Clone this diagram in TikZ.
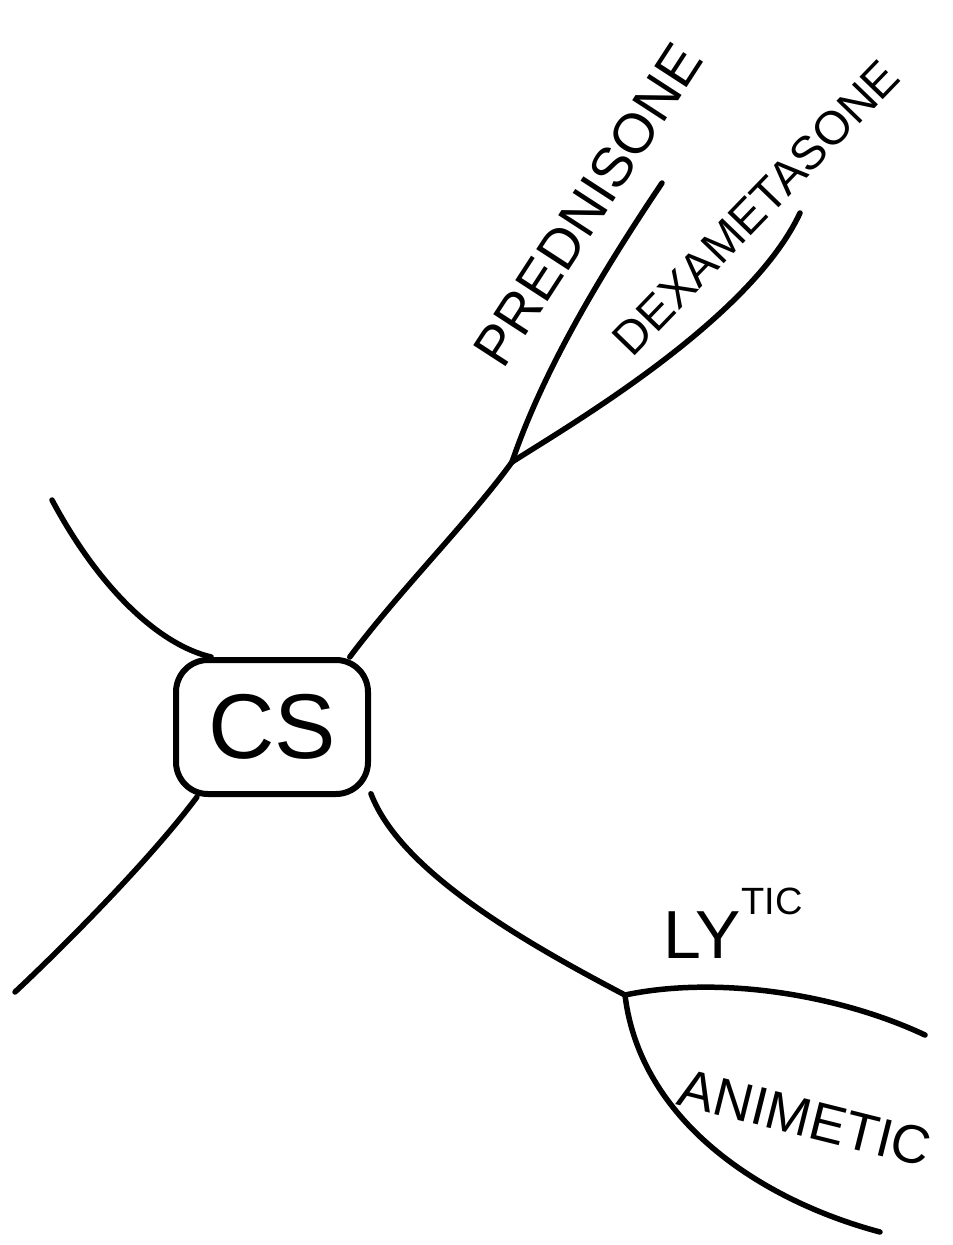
\documentclass[tikz,border=0pt]{standalone}
\usepackage{fontspec}
\setmainfont{Liberation Sans}
\begin{document}
\begin{tikzpicture}[x=1pt,y=-1pt,
  stroke/.style={line width=5.5pt, line cap=round, black},
  hub/.style={draw, line width=6pt, rounded corners=32pt, minimum width=192pt, minimum height=134pt, inner sep=0pt},
  lbl/.style={inner sep=0pt, text=black}]
\useasboundingbox (0,0) rectangle (953,1245);
\node[hub] (cs) at (272,727) {\fontsize{92}{92}\selectfont CS};
\coordinate (tl) at (52,500);
\coordinate (bl) at (15,992);
\coordinate (b1) at (512,462);
\coordinate (pe) at (662,183);
\coordinate (de) at (800,213);
\coordinate (b2) at (625,995);
\coordinate (le) at (925,1035);
\coordinate (ae) at (880,1232);
\draw[stroke] (tl) .. controls (100,590) and (160,645) .. (cs.131);
\draw[stroke] (cs.223) .. controls (150,860) and (60,950) .. (bl);
\draw[stroke] (cs.42) .. controls (400,590) and (470,520) .. (b1);
\draw[stroke] (b1) .. controls (540,380) and (590,290) .. (pe);
\draw[stroke] (b1) .. controls (570,425) and (750,320) .. (de);
\draw[stroke] (cs.326) .. controls (400,870) and (520,940) .. (b2);
\draw[stroke] (b2) .. controls (720,975) and (840,995) .. (le);
\draw[stroke] (b2) .. controls (640,1120) and (760,1200) .. (ae);
\node[lbl, rotate=57] (pred) at (588,205) {\fontsize{56}{56}\selectfont PREDNISONE};
\node[lbl, rotate=46] (dexa) at (756,208) {\fontsize{47}{47}\selectfont DEXAMETASONE};
\node[lbl, anchor=base west] (ly) at (663,958) {\fontsize{68}{68}\selectfont LY};
\node[lbl, anchor=base west, yshift=44pt] (tic) at (ly.base east) {\fontsize{38}{38}\selectfont TIC};
\node[lbl, rotate=-14] (ani) at (805,1118) {\fontsize{54}{54}\selectfont ANIMETIC};
\end{tikzpicture}
\end{document}
